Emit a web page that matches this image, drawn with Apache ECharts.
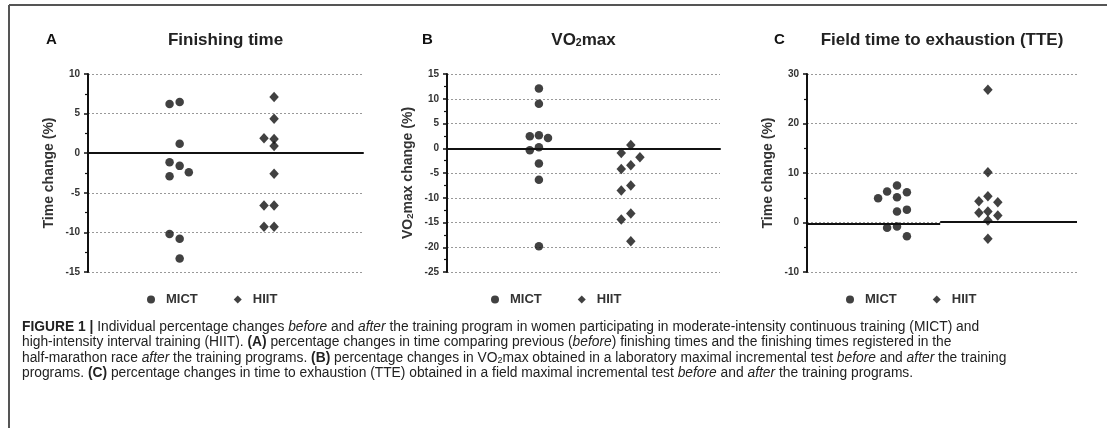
<!DOCTYPE html>
<html>
<head>
<meta charset="utf-8">
<script src="https://cdn.jsdelivr.net/npm/echarts@6/dist/echarts.min.js"></script>
<style>
html,body{margin:0;padding:0;background:#fff;}
#chart{width:1107px;height:428px;}
</style>
</head>
<body>
<div id="chart"></div>
<script>
// ---------- data ----------
const groups = ['MICT', 'HIIT'];
const panelLetters = ['A', 'B', 'C'];
const panelTitles = ['Finishing time', '{t|VO}{ts|2}{t|max}', 'Field time to exhaustion (TTE)'];
const axisNames = ['Time change (%)', '{n|VO}{ns|2}{n|max change (%)}', 'Time change (%)'];

// Panel A: finishing time (% change)
const aMictX = [0.89, 1.0, 1.0, 0.89, 1.0, 1.1, 0.89, 0.89, 1.0, 1.0];
const aMictY = [6.2, 6.45, 1.2, -1.15, -1.6, -2.4, -2.9, -10.2, -10.8, -13.3];
const aHiitX = [2.03, 2.03, 1.92, 2.03, 2.03, 2.03, 1.92, 2.03, 1.92, 2.03];
const aHiitY = [7.1, 4.35, 1.9, 1.8, 0.9, -2.6, -6.6, -6.6, -9.3, -9.3];

// Panel B: VO2max (% change)
const bMictX = [1.01, 1.01, 0.91, 1.01, 1.11, 0.91, 1.01, 1.01, 1.01, 1.01];
const bMictY = [12.07, 8.97, 2.43, 2.63, 2.09, -0.40, 0.2, -3.1, -6.34, -19.8];
const bHiitX = [2.02, 1.915, 2.12, 1.915, 2.02, 1.915, 2.02, 1.915, 2.02, 2.02];
const bHiitY = [0.67, -0.94, -1.82, -4.18, -3.44, -8.56, -7.55, -14.4, -13.2, -18.8];

// Panel C: field time to exhaustion (% change)
const cMictX = [0.79, 0.89, 1.0, 1.0, 1.11, 1.0, 1.11, 0.89, 1.0, 1.11];
const cMictY = [4.9, 6.25, 7.46, 5.1, 6.1, 2.2, 2.6, -1.08, -0.8, -2.8];
const cHiitX = [2.01, 2.01, 2.01, 1.91, 2.12, 1.91, 2.01, 2.12, 2.01, 2.01];
const cHiitY = [26.8, 10.15, 5.3, 4.3, 4.1, 1.95, 2.2, 1.4, 0.4, -3.3];

// reference (zero) segments in panel C: [xStart, xEnd, y]
const cZeroSegs = [[0, 1.48, -0.25], [1.48, 3, 0.2]];

// y axis ranges: [min, max, interval]
const yRanges = [[-15, 10, 5], [-25, 15, 5], [-10, 30, 10]];

const captionLines = [
  '{b|FIGURE 1 | }{n|Individual percentage changes }{i|before}{n| and }{i|after}{n| the training program in women participating in moderate-intensity continuous training (MICT) and}',
  '{n|high-intensity interval training (HIIT). }{b|(A)}{n| percentage changes in time comparing previous (}{i|before}{n|) finishing times and the finishing times registered in the}',
  '{n|half-marathon race }{i|after}{n| the training programs. }{b|(B)}{n| percentage changes in VO}{s|2}{n|max obtained in a laboratory maximal incremental test }{i|before}{n| and }{i|after}{n| the training}',
  '{n|programs. }{b|(C)}{n| percentage changes in time to exhaustion (TTE) obtained in a field maximal incremental test }{i|before}{n| and }{i|after}{n| the training programs.}'
];

// ---------- layout ----------
const FONT = 'Liberation Sans, Arial, sans-serif';
const grids = [
  {left: 88, top: 74, width: 275, height: 198},
  {left: 447, top: 74, width: 273, height: 198},
  {left: 807, top: 74, width: 270, height: 198}
];
const legendLeft = [142, 486, 841];

const pairs = (xs, ys) => xs.map((x, i) => [x, ys[i]]);
const seriesData = [
  [pairs(aMictX, aMictY), pairs(aHiitX, aHiitY)],
  [pairs(bMictX, bMictY), pairs(bHiitX, bHiitY)],
  [pairs(cMictX, cMictY), pairs(cHiitX, cHiitY)]
];

const option = {
  animation: false,
  backgroundColor: '#fff',
  textStyle: {fontFamily: FONT},
  grid: grids.map(g => Object.assign({containLabel: false}, g)),
  xAxis: grids.map((g, i) => ({
    type: 'value', gridIndex: i, min: 0, max: 3,
    axisLabel: {show: false}, axisTick: {show: false}, splitLine: {show: false},
    axisLine: {show: i !== 2, onZero: true, lineStyle: {color: '#111', width: 2}}
  })),
  yAxis: yRanges.map((r, i) => ({
    type: 'value', gridIndex: i, min: r[0], max: r[1], interval: r[2],
    name: axisNames[i], nameLocation: 'middle', nameGap: 32, nameRotate: 90,
    nameTextStyle: {
      fontSize: 14, fontWeight: 'bold', color: '#333', fontFamily: FONT,
      rich: {
        n: {fontSize: 14, fontWeight: 'bold', color: '#333', fontFamily: FONT},
        ns: {fontSize: 9.5, fontWeight: 'bold', color: '#333', fontFamily: FONT, verticalAlign: 'bottom'}
      }
    },
    axisLine: {show: true, onZero: false, lineStyle: {color: '#111', width: 2}},
    axisTick: {show: true, length: 4, lineStyle: {color: '#111', width: 1.5}},
    minorTick: {show: true, splitNumber: 2, length: 3, lineStyle: {color: '#111', width: 1.2}},
    axisLabel: {fontSize: 10, fontWeight: 'bold', color: '#333', margin: 8, fontFamily: FONT},
    splitLine: {show: true, lineStyle: {color: '#999', type: [2, 2], width: 1}}
  })),
  title: [].concat(
    panelLetters.map((t, i) => ({
      text: t, left: [41, 417, 769][i], top: 27,
      textStyle: {fontSize: 15, fontWeight: 'bold', color: '#111', fontFamily: FONT}
    })),
    panelTitles.map((t, i) => ({
      text: t, left: grids[i].left + grids[i].width / 2 - 5, textAlign: 'center', top: 27,
      textStyle: {
        fontSize: 17, fontWeight: 'bold', color: '#222', fontFamily: FONT,
        rich: {
          t: {fontSize: 17, fontWeight: 'bold', color: '#222', fontFamily: FONT},
          ts: {fontSize: 10.5, fontWeight: 'bold', color: '#222', fontFamily: FONT, verticalAlign: 'bottom'}
        }
      }
    }))
  ),
  legend: legendLeft.map((l, i) => ({
    left: l, top: 288, orient: 'horizontal', itemGap: 36, itemWidth: 8, itemHeight: 8,
    selectedMode: false,
    textStyle: {fontSize: 13, fontWeight: 'bold', color: '#333', fontFamily: FONT, padding: [0, 0, 0, 6]},
    data: [{name: groups[0], icon: 'circle'}, {name: groups[1], icon: 'diamond'}]
  })),
  series: [],
  graphic: []
};

seriesData.forEach((pd, i) => {
  option.series.push({
    type: 'scatter', name: groups[0], xAxisIndex: i, yAxisIndex: i,
    symbol: 'circle', symbolSize: 8.5, itemStyle: {color: '#111'}, data: pd[0],
    markLine: i === 2 ? {
      silent: true, symbol: 'none', label: {show: false},
      lineStyle: {color: '#111', width: 2, type: 'solid'},
      data: cZeroSegs.map(s => [{coord: [s[0], s[2]]}, {coord: [s[1], s[2]]}])
    } : undefined
  });
  option.series.push({
    type: 'scatter', name: groups[1], xAxisIndex: i, yAxisIndex: i,
    symbol: 'diamond', symbolSize: [9.5, 10.5], itemStyle: {color: '#111'}, data: pd[1]
  });
});

// frame lines
option.graphic.push({type: 'line', shape: {x1: 9, y1: 5, x2: 1107, y2: 5}, style: {stroke: '#555', lineWidth: 2}});
option.graphic.push({type: 'line', shape: {x1: 9, y1: 5, x2: 9, y2: 428}, style: {stroke: '#555', lineWidth: 2}});

// caption
const capSize = 13.8;
const capRich = {
  n: {fontSize: capSize, color: '#222', fontFamily: FONT},
  b: {fontSize: capSize, color: '#222', fontFamily: FONT, fontWeight: 'bold'},
  i: {fontSize: capSize, color: '#222', fontFamily: FONT, fontStyle: 'italic'},
  s: {fontSize: 9, color: '#222', fontFamily: FONT, verticalAlign: 'bottom'}
};
captionLines.forEach((t, k) => {
  option.graphic.push({
    type: 'text', left: 22, top: 320 + k * 15.5,
    style: {text: t, rich: capRich, fill: '#222', font: capSize + 'px ' + FONT}
  });
});

const chart = echarts.init(document.getElementById('chart'), null, {renderer: 'canvas'});
chart.setOption(option);
</script>
</body>
</html>
